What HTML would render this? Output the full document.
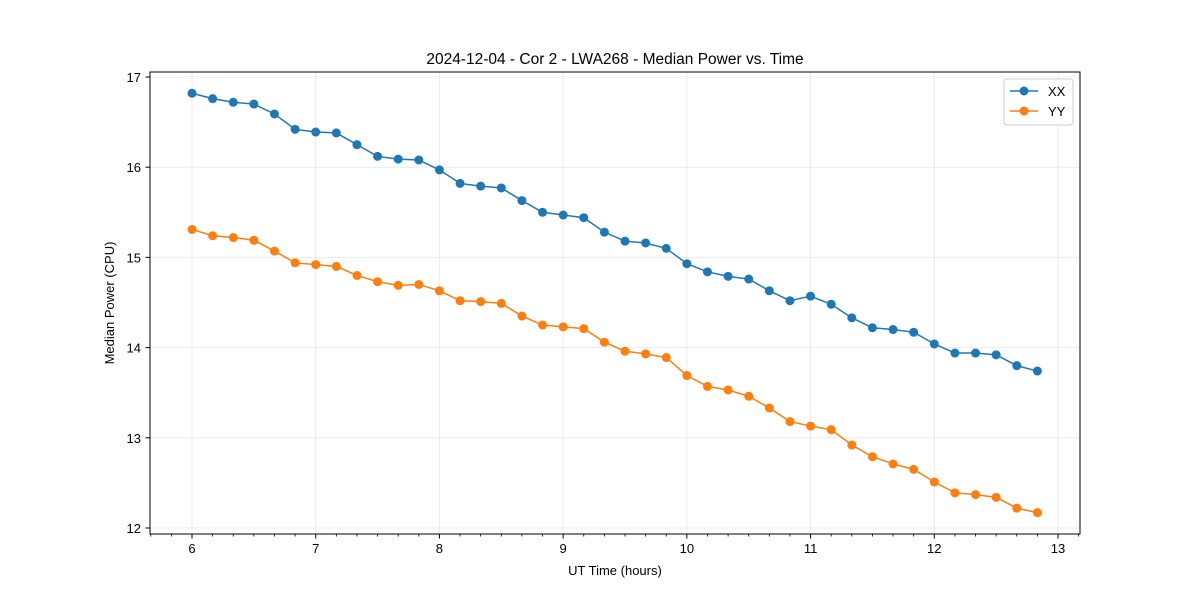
<!DOCTYPE html>
<html><head><meta charset="utf-8"><style>
body{margin:0;background:#fff;}
svg text{font-family:"Liberation Sans","DejaVu Sans",sans-serif;fill:#000;}
</style></head><body>
<svg id="chart" width="1200" height="600">
<rect width="1200" height="600" fill="#fff"/>
<text x="615" y="64" font-size="15.5" text-anchor="middle">2024-12-04 - Cor 2 - LWA268 - Median Power vs. Time</text>
<g id="grid"></g>
<g id="axes"></g>
<g id="series"></g>
<rect x="150" y="72" width="930" height="462" fill="none" stroke="#000" stroke-width="1"/>
<text x="615" y="575" font-size="13" text-anchor="middle">UT Time (hours)</text>
<text transform="translate(114,303) rotate(-90)" font-size="13" text-anchor="middle">Median Power (CPU)</text>
<g>
<rect x="1004" y="79" width="69" height="46" rx="3" fill="#fff" stroke="#ccc"/>
<g>
<line x1="1010" y1="91" x2="1038" y2="91" stroke="#1f77b4" stroke-width="1.5"/><circle cx="1024" cy="91" r="4.5" fill="#1f77b4"/>
<text x="1048" y="96" font-size="13">XX</text></g>
<g>
<line x1="1010" y1="111" x2="1038" y2="111" stroke="#ff7f0e" stroke-width="1.5"/><circle cx="1024" cy="111" r="4.5" fill="#ff7f0e"/>
<text x="1048" y="116" font-size="13">YY</text></g>
</g>
</svg>
<script>
const xTicks=[6,7,8,9,10,11,12,13];
const yTicks=[12,13,14,15,16,17];
const xxValues=[16.82,16.76,16.72,16.70,16.59,16.42,16.39,16.38,16.25,16.12,16.09,16.08,15.97,15.82,15.79,15.77,15.63,15.50,15.47,15.44,15.28,15.18,15.16,15.10,14.93,14.84,14.79,14.76,14.63,14.52,14.57,14.48,14.33,14.22,14.20,14.17,14.04,13.94,13.94,13.92,13.80,13.74];
const yyValues=[15.31,15.24,15.22,15.19,15.07,14.94,14.92,14.90,14.80,14.73,14.69,14.70,14.63,14.52,14.51,14.49,14.35,14.25,14.23,14.21,14.06,13.96,13.93,13.89,13.69,13.57,13.53,13.46,13.33,13.18,13.13,13.09,12.92,12.79,12.71,12.65,12.51,12.39,12.37,12.34,12.22,12.17];
const startHour=6, stepHours=1/6;
const NS="http://www.w3.org/2000/svg";
function xs(v){return 192+(v-6)*(1058-192)/7;}
function ys(v){return 528-(v-12)*(528-77)/5;}
function mk(tag,attrs,parent){const e=document.createElementNS(NS,tag);for(const k in attrs)e.setAttribute(k,attrs[k]);parent.appendChild(e);return e;}
const grid=document.getElementById('grid'),axes=document.getElementById('axes'),ser=document.getElementById('series');
for(let k=-2;k<=43;k++){const x=xs(6+k/6);
 if(x<150||x>1080||k%6===0)continue;
 const m=mk('line',{x1:x,x2:x,y1:534,y2:536.5,stroke:'#000','stroke-width':0.8},axes);
 
 
}
xTicks.forEach(t=>{const x=xs(t);
 const g=mk('line',{x1:x,x2:x,y1:72,y2:534,stroke:'#b0b0b0','stroke-opacity':0.3,'stroke-width':0.8},grid);
 
 
 mk('line',{x1:x,x2:x,y1:534,y2:538.5,stroke:'#000'},axes);
 const tx=mk('text',{x:x,y:553,'font-size':13,'text-anchor':'middle'},axes);tx.textContent=t;
 
 
});
yTicks.forEach(t=>{const y=ys(t);
 const g=mk('line',{x1:150,x2:1080,y1:y,y2:y,stroke:'#b0b0b0','stroke-opacity':0.3,'stroke-width':0.8},grid);
 
 
 mk('line',{x1:145.5,x2:150,y1:y,y2:y,stroke:'#000'},axes);
 const tx=mk('text',{x:141,y:y+5,'font-size':13,'text-anchor':'end'},axes);tx.textContent=t;
 
 
});
function draw(vals,color,name){
 const g=mk('g',{},ser);
 
 
 const pts=vals.map((v,i)=>xs(startHour+i*stepHours)+','+ys(v)).join(' ');
 mk('polyline',{points:pts,fill:'none',stroke:color,'stroke-width':1.5},g);
 vals.forEach((v,i)=>{const c=mk('circle',{cx:xs(startHour+i*stepHours),cy:ys(v),r:4.5,fill:color},g);
  
  });
}
draw(xxValues,'#1f77b4','series-xx');
draw(yyValues,'#ff7f0e','series-yy');
</script>
</body></html>
